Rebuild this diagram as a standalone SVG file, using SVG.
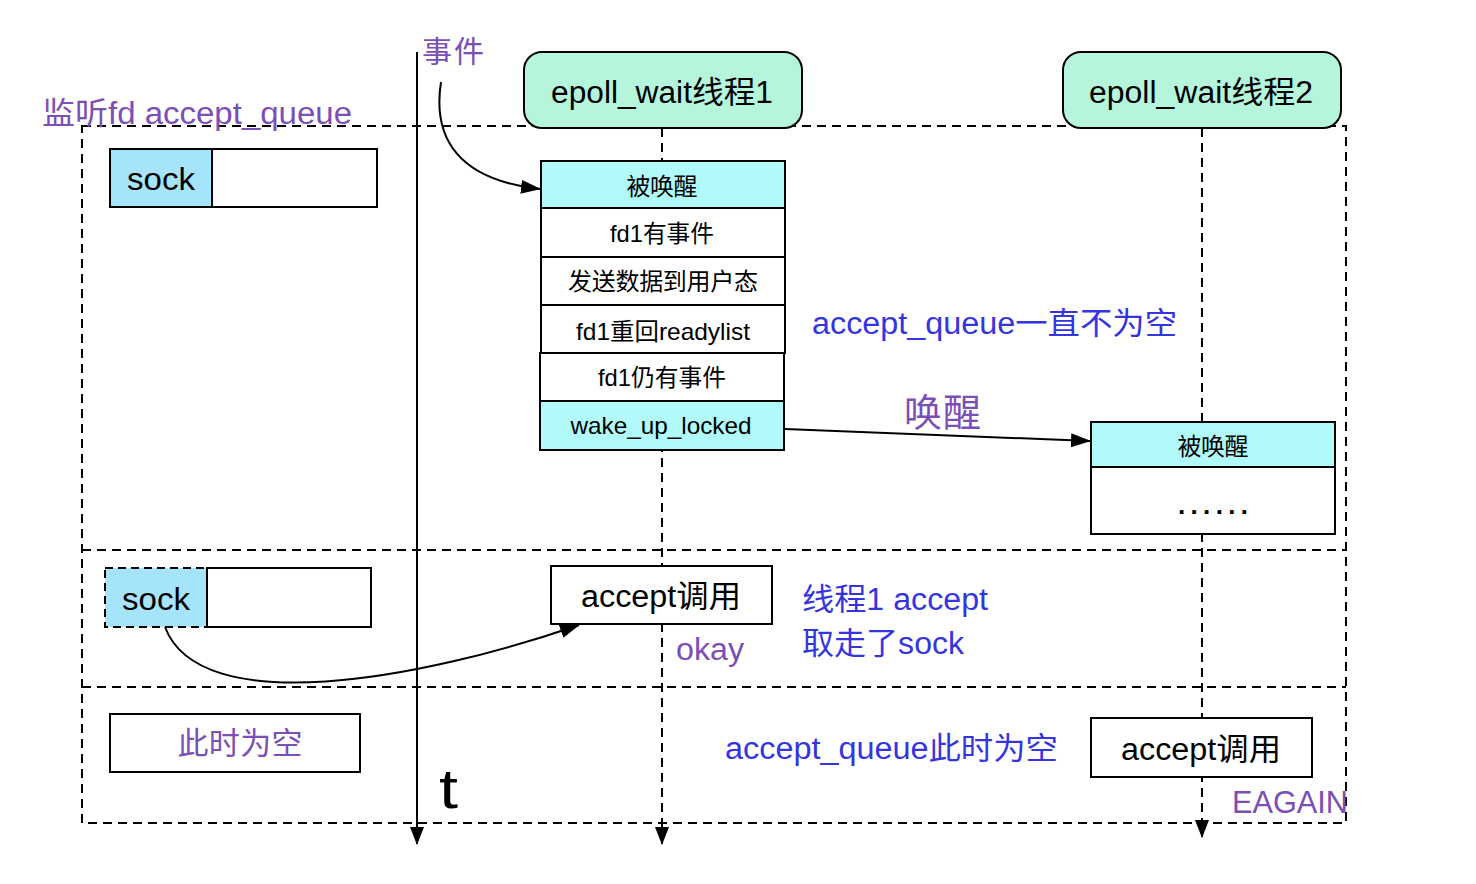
<svg xmlns="http://www.w3.org/2000/svg" width="1476" height="884" viewBox="0 0 1476 884">
<defs>
<marker id="ah" markerWidth="20" markerHeight="14" refX="19" refY="7" orient="auto" markerUnits="userSpaceOnUse">
<path d="M0,0 L20,7 L0,14 Z" fill="#000"/>
</marker>
<marker id="ahd" markerWidth="18" markerHeight="14" refX="17" refY="7" orient="auto" markerUnits="userSpaceOnUse">
<path d="M0,0 L18,7 L0,14 Z" fill="#000"/>
</marker>
</defs>
<style>
text{font-family:"Helvetica Neue","Liberation Sans","Noto Sans CJK SC",sans-serif;}
.dash{fill:none;stroke:#000;stroke-width:2;stroke-dasharray:9 6;}
.box{stroke:#000;stroke-width:2;}
.w{fill:#fff;}
.cy{fill:#b0fafa;}
.lb{fill:#a6e4fb;}
.mint{fill:#b5f5dc;}
.c{text-anchor:middle;}
.pur{fill:#7b4fb5;}
.blu{fill:#3535e0;}
.conn{fill:none;stroke:#000;stroke-width:2;}
</style>
<rect width="1476" height="884" fill="#fff"/>
<g id="regions">
<path class="dash" d="M82,126 H1346 V823 H82 Z"/>
<path class="dash" d="M82,550 H1346"/>
<path class="dash" d="M82,687 H1346"/>
</g>
<g id="connectors">
<line x1="417" y1="52" x2="417" y2="844" stroke="#000" stroke-width="2" marker-end="url(#ahd)"/>
<line class="dash" x1="662" y1="128" x2="662" y2="826"/>
<line x1="662" y1="826" x2="662" y2="844" stroke="#000" stroke-width="2" marker-end="url(#ahd)"/>
<line class="dash" x1="1202" y1="128" x2="1202" y2="820"/>
<line x1="1202" y1="820" x2="1202" y2="837" stroke="#000" stroke-width="2" marker-end="url(#ahd)"/>
<path class="conn" d="M441,82 C432,140 460,180 540,189" marker-end="url(#ah)"/>
<line class="conn" x1="785" y1="429" x2="1090" y2="441" marker-end="url(#ah)"/>
<path class="conn" d="M165,627 C200,720 420,680 579,625" marker-end="url(#ah)"/>
</g>
<g id="label-event"><text x="422" y="62" font-size="30" textLength="62" class="pur">事件</text></g>
<g id="label-queue"><text x="42" y="124" font-size="31" textLength="310" lengthAdjust="spacingAndGlyphs" class="pur">监听fd accept_queue</text></g>
<g id="thread1">
<rect x="524" y="52" width="278" height="76" rx="18" class="box mint"/>
<text x="662" y="103" font-size="31" textLength="222" lengthAdjust="spacingAndGlyphs" class="c">epoll_wait线程1</text>
</g>
<g id="thread2">
<rect x="1063" y="52" width="278" height="76" rx="18" class="box mint"/>
<text x="1201" y="103" font-size="31" textLength="224" lengthAdjust="spacingAndGlyphs" class="c">epoll_wait线程2</text>
</g>
<g id="sock1">
<rect x="110" y="149" width="102" height="58" class="box lb"/>
<rect x="212" y="149" width="165" height="58" class="box w"/>
<text x="161" y="190" font-size="31" textLength="68" lengthAdjust="spacingAndGlyphs" class="c">sock</text>
</g>
<g id="stack1">
<rect x="541" y="161" width="244" height="47" class="box cy"/>
<text x="662" y="195" font-size="24" textLength="71" class="c">被唤醒</text>
<rect x="541" y="208" width="244" height="49" class="box w"/>
<text x="662" y="242" font-size="24" textLength="104" lengthAdjust="spacingAndGlyphs" class="c">fd1有事件</text>
<rect x="541" y="257" width="244" height="48" class="box w"/>
<text x="663" y="290" font-size="24" textLength="190" class="c">发送数据到用户态</text>
<rect x="541" y="305" width="244" height="48" class="box w"/>
<text x="663" y="340" font-size="24" textLength="174" lengthAdjust="spacingAndGlyphs" class="c">fd1重回readylist</text>
<rect x="540" y="353" width="244" height="48" class="box w"/>
<text x="662" y="386" font-size="24" textLength="128" lengthAdjust="spacingAndGlyphs" class="c">fd1仍有事件</text>
<rect x="540" y="401" width="244" height="49" class="box cy"/>
<text x="661" y="434" font-size="24" textLength="181" lengthAdjust="spacingAndGlyphs" class="c">wake_up_locked</text>
</g>
<g id="label-notempty"><text x="812" y="334" font-size="31" textLength="365" lengthAdjust="spacingAndGlyphs" class="blu">accept_queue一直不为空</text></g>
<g id="label-wake"><text x="904" y="426" font-size="38" textLength="77" class="pur">唤醒</text></g>
<g id="stack2">
<rect x="1091" y="422" width="244" height="45" class="box cy"/>
<text x="1213" y="455" font-size="24" textLength="71" class="c">被唤醒</text>
<rect x="1091" y="467" width="244" height="67" class="box w"/>
<text x="1213" y="514" font-size="26" font-weight="bold" textLength="70" lengthAdjust="spacing" class="c">......</text>
</g>
<g id="sock2">
<rect x="105" y="568" width="102" height="59" fill="#a6e4fb" stroke="#000" stroke-width="2" stroke-dasharray="8 5"/>
<rect x="207" y="568" width="164" height="59" class="box w"/>
<text x="156" y="610" font-size="31" textLength="68" lengthAdjust="spacingAndGlyphs" class="c">sock</text>
</g>
<g id="accept1">
<rect x="551" y="566" width="221" height="58" class="box w"/>
<text x="661" y="607" font-size="31" textLength="160" lengthAdjust="spacingAndGlyphs" class="c">accept调用</text>
</g>
<g id="label-okay"><text x="676" y="660" font-size="31" textLength="68" lengthAdjust="spacingAndGlyphs" class="pur">okay</text></g>
<g id="label-took">
<text x="802" y="610" font-size="31" textLength="186" lengthAdjust="spacingAndGlyphs" class="blu">线程1 accept</text>
<text x="802" y="654" font-size="31" textLength="162" lengthAdjust="spacingAndGlyphs" class="blu">取走了sock</text>
</g>
<g id="empty">
<rect x="110" y="714" width="250" height="58" class="box w"/>
<text x="240" y="754" font-size="31" textLength="125" class="c pur">此时为空</text>
</g>
<g id="label-t"><text x="439" y="808" font-size="56" textLength="19" lengthAdjust="spacingAndGlyphs">t</text></g>
<g id="label-nowempty"><text x="725" y="759" font-size="31" textLength="333" lengthAdjust="spacingAndGlyphs" class="blu">accept_queue此时为空</text></g>
<g id="accept2">
<rect x="1091" y="718" width="221" height="59" class="box w"/>
<text x="1201" y="760" font-size="31" textLength="160" lengthAdjust="spacingAndGlyphs" class="c">accept调用</text>
</g>
<g id="label-eagain"><text x="1232" y="813" font-size="31" textLength="116" lengthAdjust="spacingAndGlyphs" class="pur">EAGAIN</text></g>
</svg>
